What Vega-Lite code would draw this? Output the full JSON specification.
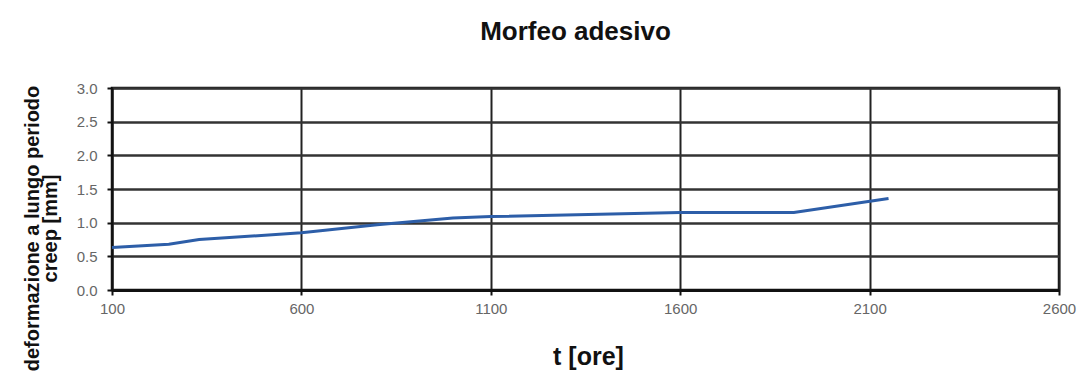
{
  "$schema": "https://vega.github.io/schema/vega-lite/v6.json",
  "width": 947,
  "height": 202,
  "autosize": "none",
  "padding": {"left": 112, "top": 88, "right": 26, "bottom": 90},
  "background": "white",
  "title": {
    "text": "Morfeo adesivo",
    "font": "Liberation Sans",
    "fontSize": 26,
    "fontWeight": "bold",
    "color": "#111",
    "anchor": "middle",
    "dx": -10,
    "offset": 36
  },
  "data": {
    "values": [
      {"t": 100, "creep": 0.63},
      {"t": 250, "creep": 0.68},
      {"t": 330, "creep": 0.75},
      {"t": 600, "creep": 0.85},
      {"t": 800, "creep": 0.97},
      {"t": 1000, "creep": 1.07},
      {"t": 1100, "creep": 1.09},
      {"t": 1600, "creep": 1.15},
      {"t": 1900, "creep": 1.15},
      {"t": 2150, "creep": 1.36}
    ]
  },
  "mark": {"type": "line", "color": "#2d5ea8", "strokeWidth": 3},
  "encoding": {
    "x": {
      "field": "t",
      "type": "quantitative",
      "scale": {"domain": [100, 2600], "nice": false, "zero": false},
      "axis": {
        "values": [100, 600, 1100, 1600, 2100, 2600],
        "format": "d",
        "title": "t [ore]",
        "titleFont": "Liberation Sans",
        "titleFontSize": 25,
        "titleFontWeight": "bold",
        "titleColor": "#111",
        "titleBaseline": "middle",
        "titleY": 66,
        "titleX": 476,
        "labelFont": "Liberation Sans",
        "labelFontSize": 15,
        "labelColor": "#666",
        "labelPadding": 6,
        "labelFlush": false,
        "labelOverlap": false,
        "domainColor": "#111",
        "domainWidth": 3,
        "tickColor": "#111",
        "tickWidth": 2,
        "tickSize": 5,
        "grid": true,
        "gridColor": "#222",
        "gridWidth": 2
      }
    },
    "y": {
      "field": "creep",
      "type": "quantitative",
      "scale": {"domain": [0, 3], "nice": false},
      "axis": {
        "values": [0, 0.5, 1, 1.5, 2, 2.5, 3],
        "format": ".1f",
        "title": ["deformazione a lungo periodo", "creep [mm]"],
        "titleFont": "Liberation Sans",
        "titleFontSize": 20,
        "titleFontWeight": "bold",
        "titleColor": "#111",
        "titleLineHeight": 18,
        "titleAngle": -90,
        "titleBaseline": "top",
        "titleAlign": "center",
        "titleX": -90,
        "titleY": 140,
        "labelFont": "Liberation Sans",
        "labelFontSize": 15,
        "labelColor": "#666",
        "labelPadding": 10,
        "labelFlush": false,
        "domainColor": "#111",
        "domainWidth": 2,
        "tickColor": "#111",
        "tickWidth": 2,
        "tickSize": 5,
        "grid": true,
        "gridColor": "#333",
        "gridWidth": 2.5
      }
    }
  },
  "config": {
    "view": {"stroke": "#111", "strokeWidth": 2.5}
  }
}
